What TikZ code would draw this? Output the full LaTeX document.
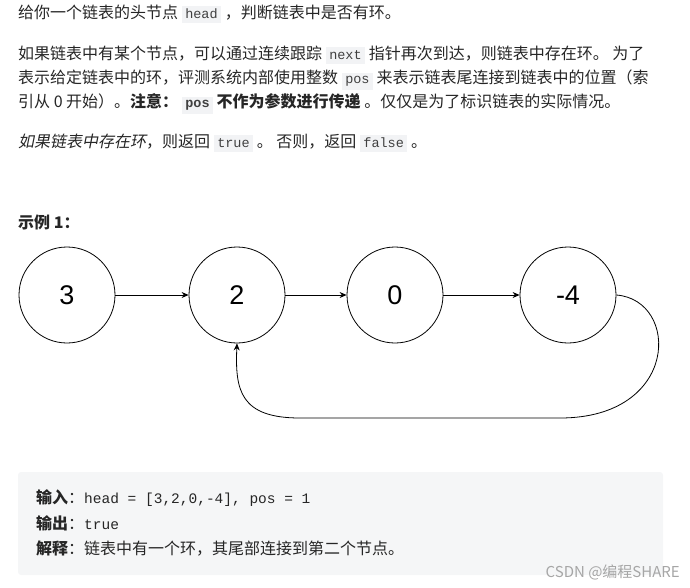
\documentclass[tikz,border=0pt]{standalone}
\usetikzlibrary{arrows.meta}
\usepackage{fontspec}
\setmainfont{Noto Sans CJK SC}
\newfontfamily\cjkit[FakeSlant=0.2]{Noto Sans CJK SC}
\setmonofont{Liberation Mono}
\newfontfamily\numfont{Liberation Sans}
\definecolor{chip}{HTML}{F2F3F5}
\definecolor{boxbg}{HTML}{F5F6F7}
\definecolor{txt}{HTML}{262626}
\newcommand{\cd}[1]{{\setlength{\fboxsep}{3.5pt}\colorbox{chip}{\fontsize{13.5}{15}\ttfamily\color{black!75}#1}}}
\begin{document}
\begin{tikzpicture}[x=1pt,y=-1pt,
  txtline/.style={anchor=west,inner sep=0pt,text=txt,font=\fontsize{16}{18}\selectfont},
  listnode/.style={circle,draw,thick,minimum size=96pt,inner sep=0pt,font=\numfont\fontsize{27}{30}\selectfont},
  arr/.style={-{Stealth[length=7pt,width=6pt]},line width=0.8pt}]
\useasboundingbox (0,0) rectangle (690,587);
\node[txtline] (l1) at (18,14) {给你一个链表的头节点 \cd{head} ，判断链表中是否有环。};
\node[txtline] (l2) at (18,55) {如果链表中有某个节点，可以通过连续跟踪 \cd{next} 指针再次到达，则链表中存在环。 为了};
\node[txtline] (l3) at (18,80) {表示给定链表中的环，评测系统内部使用整数 \cd{pos} 来表示链表尾连接到链表中的位置（索};
\node[txtline] (l4) at (18,104) {引从 0 开始）。\textbf{注意：} \cd{\textbf{pos}} \textbf{不作为参数进行传递} 。仅仅是为了标识链表的实际情况。};
\node[txtline] (l5) at (18,143) {{\cjkit 如果链表中存在环}，则返回 \cd{true} 。 否则，返回 \cd{false} 。};
\node[txtline] (ex) at (18,222) {\textbf{示例 1：}};
\node[listnode] (a) at (67,295) {3};
\node[listnode] (b) at (237,295) {2};
\node[listnode] (c) at (395,295) {0};
\node[listnode] (d) at (568,295) {-4};
\draw[arr] (a) -- (b);
\draw[arr] (b) -- (c);
\draw[arr] (c) -- (d);
\draw[arr] (d.east) .. controls (680,300) and (680,418) .. (560,418) -- (300,418) .. controls (240,418) and (235,390) .. (b.south);
\fill[boxbg,rounded corners=3pt] (18,472) rectangle (663,575);
\node[txtline] (o1) at (36,498) {\textbf{输入}：{\fontsize{14.5}{16}\ttfamily head = [3,2,0,-4], pos = 1}};
\node[txtline] (o2) at (36,523) {\textbf{输出}：{\fontsize{14.5}{16}\ttfamily true}};
\node[txtline] (o3) at (36,548) {\textbf{解释}：链表中有一个环，其尾部连接到第二个节点。};
\node[anchor=east,inner sep=0pt,text=black!35,font=\fontsize{15}{17}\selectfont] (wm) at (680,572) {CSDN @编程SHARE};
\end{tikzpicture}
\end{document}
